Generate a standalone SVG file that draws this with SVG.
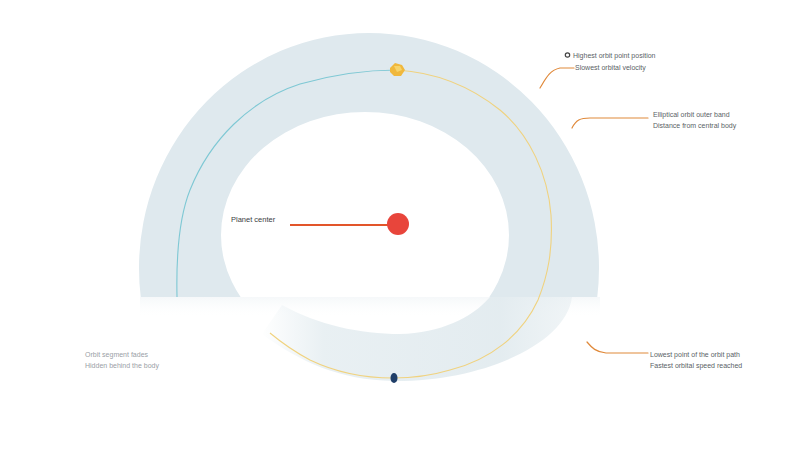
<svg xmlns="http://www.w3.org/2000/svg" width="800" height="450" viewBox="0 0 800 450">
  <defs>
    <style>
      .lbl { font-family: "Liberation Sans", Arial, sans-serif; font-size: 7px; fill: #5a5f66; }
      .lbl-dark { font-family: "Liberation Sans", Arial, sans-serif; font-size: 7.5px; fill: #3a3d42; }
      .lbl-faint { font-family: "Liberation Sans", Arial, sans-serif; font-size: 7px; fill: #9aa0a6; }
      .callout { fill: none; stroke: #e0893a; stroke-width: 1.2; stroke-linecap: round; }
      .orbit-warm { fill: none; stroke: #f0d27e; stroke-width: 1.1; }
      .orbit-cool { fill: none; stroke: #7ec8d4; stroke-width: 1.1; }
    </style>
    <clipPath id="upper">
      <rect x="0" y="0" width="800" height="297"/>
    </clipPath>
    <linearGradient id="fadeLeft" x1="260" y1="0" x2="580" y2="0" gradientUnits="userSpaceOnUse">
      <stop offset="0" stop-color="#e3ecf0" stop-opacity="0"/>
      <stop offset="0.2" stop-color="#e3ecf0" stop-opacity="0.8"/>
      <stop offset="0.75" stop-color="#e2ebef" stop-opacity="0.95"/>
      <stop offset="1" stop-color="#e8eff2" stop-opacity="0.6"/>
    </linearGradient>
    <linearGradient id="shadowBelow" x1="0" y1="297" x2="0" y2="318" gradientUnits="userSpaceOnUse">
      <stop offset="0" stop-color="#f1f5f7" stop-opacity="0.7"/>
      <stop offset="1" stop-color="#ffffff" stop-opacity="0"/>
    </linearGradient>
  </defs>

  <rect x="0" y="0" width="800" height="450" fill="#ffffff"/>

  <!-- Ring -->
  <g id="ring">
    <rect x="140" y="297" width="460" height="21" fill="url(#shadowBelow)"/>
    <path clip-path="url(#upper)" fill="#dfe9ee" fill-rule="evenodd"
      d="M 139 268 A 230 235 0 1 1 599 268 A 230 235 0 1 1 139 268 Z
         M 221 235 A 144 123 0 1 0 509 235 A 144 123 0 1 0 221 235 Z"/>
    <path fill="url(#fadeLeft)"
      d="M 572 297 C 566 345, 480 382, 393 381 C 340 380, 300 362, 262 334 L 282 305 C 318 325, 360 334, 400 334 C 440 333, 472 318, 490 297 Z"/>
  </g>

  <!-- Orbit paths and connectors -->
  <g id="connectors">
    <path class="orbit-cool" d="M 177 297 C 176 250, 180 215, 190 190 C 210 140, 250 100, 300 84 C 335 74, 365 70, 397 70"/>
    <path class="orbit-warm" d="M 397 70 C 430 72, 465 82, 500 110 C 530 135, 548 175, 551 215 C 553 250, 548 275, 538 300 C 522 335, 490 360, 450 370 C 430 376, 410 378, 393 378 C 365 378, 335 372, 310 360 C 295 352, 282 343, 270 333"/>
    <line x1="290" y1="225" x2="390" y2="225" stroke="#e2552a" stroke-width="2"/>
    <path class="callout" d="M 540 88 C 546 78, 550 70, 560 68 L 574 68"/>
    <path class="callout" d="M 572 128 C 576 120, 580 118, 590 118 L 648 118"/>
    <path class="callout" d="M 587 342 C 592 348, 596 352, 606 353 L 648 353"/>
  </g>

  <!-- Center body -->
  <g id="center">
    <circle cx="398" cy="224" r="11" fill="#e8453b"/>
    <text class="lbl-dark" x="231" y="222">Planet center</text>
  </g>

  <!-- Top marker -->
  <g id="marker-top">
    <path d="M 390 68 L 395 63 L 402 65 L 405 70 L 401 76 L 394 76 L 390 72 Z" fill="#f0b83c"/>
    <path d="M 394 66 L 400 66 L 402 70 L 397 72 Z" fill="#f7d46a"/>
  </g>

  <!-- Bottom marker -->
  <g id="marker-bottom">
    <ellipse cx="394" cy="378" rx="3.5" ry="5" fill="#1f3e68"/>
  </g>

  <!-- Callout labels -->
  <g id="label-top-right">
    <circle cx="567.5" cy="55" r="2.2" fill="none" stroke="#444" stroke-width="1.2"/>
    <text class="lbl" x="573" y="58">Highest orbit point position</text>
    <text class="lbl" x="575" y="70">Slowest orbital velocity</text>
  </g>
  <g id="label-right">
    <text class="lbl" x="653" y="117">Elliptical orbit outer band</text>
    <text class="lbl" x="653" y="128">Distance from central body</text>
  </g>
  <g id="label-bottom-right">
    <text class="lbl" x="650" y="357">Lowest point of the orbit path</text>
    <text class="lbl" x="650" y="368">Fastest orbital speed reached</text>
  </g>
  <g id="label-bottom-left">
    <text class="lbl-faint" x="85" y="357">Orbit segment fades</text>
    <text class="lbl-faint" x="85" y="368">Hidden behind the body</text>
  </g>
</svg>
